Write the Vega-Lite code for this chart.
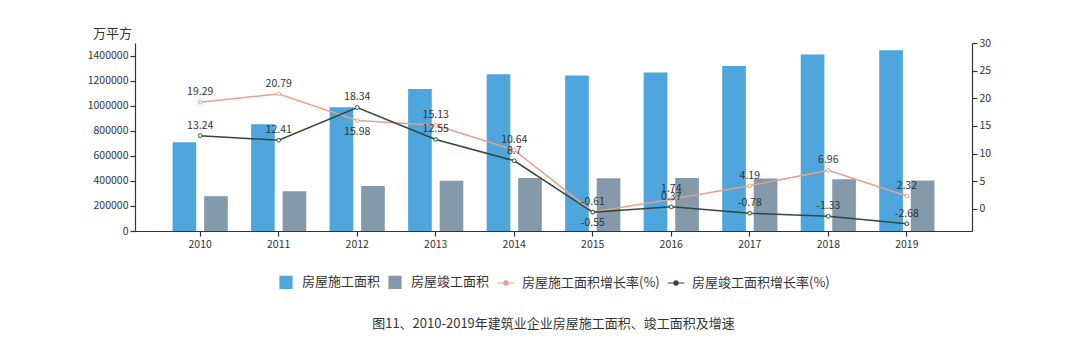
{
  "$schema": "https://vega.github.io/schema/vega-lite/v6.json",
  "width": 837,
  "height": 188,
  "autosize": {"type": "none"},
  "padding": {"left": 135, "top": 43, "right": 108, "bottom": 123},
  "background": "white",
  "config": {
    "font": "Noto Sans CJK SC",
    "view": {"stroke": null},
    "axis": {
      "domainColor": "#333333",
      "tickColor": "#333333",
      "labelColor": "#333333",
      "labelFontSize": 10.5,
      "labelFont": "Noto Sans CJK SC",
      "grid": false,
      "tickSize": 5,
      "domainWidth": 1.2,
      "tickWidth": 1.2
    },
    "title": {"font": "Noto Sans CJK SC"},
    "legend": {"labelFont": "Noto Sans CJK SC"}
  },
  "title": {
    "text": "图11、2010-2019年建筑业企业房屋施工面积、竣工面积及增速",
    "orient": "bottom",
    "anchor": "middle",
    "fontSize": 13,
    "fontWeight": "normal",
    "color": "#333333",
    "offset": 27
  },
  "data": {
    "values": [
      {"year": "2010", "房屋施工面积": 708024, "房屋竣工面积": 277450, "房屋施工面积增长率(%)": 19.29, "房屋竣工面积增长率(%)": 13.24},
      {"year": "2011", "房屋施工面积": 851828, "房屋竣工面积": 316429, "房屋施工面积增长率(%)": 20.79, "房屋竣工面积增长率(%)": 12.41},
      {"year": "2012", "房屋施工面积": 986427, "房屋竣工面积": 358737, "房屋施工面积增长率(%)": 15.98, "房屋竣工面积增长率(%)": 18.34},
      {"year": "2013", "房屋施工面积": 1132003, "房屋竣工面积": 401520, "房屋施工面积增长率(%)": 15.13, "房屋竣工面积增长率(%)": 12.55},
      {"year": "2014", "房屋施工面积": 1249826, "房屋竣工面积": 423357, "房屋施工面积增长率(%)": 10.64, "房屋竣工面积增长率(%)": 8.7},
      {"year": "2015", "房屋施工面积": 1239718, "房屋竣工面积": 420785, "房屋施工面积增长率(%)": -0.55, "房屋竣工面积增长率(%)": -0.61},
      {"year": "2016", "房屋施工面积": 1264220, "房屋竣工面积": 422375, "房屋施工面积增长率(%)": 1.74, "房屋竣工面积增长率(%)": 0.37},
      {"year": "2017", "房屋施工面积": 1317195, "房屋竣工面积": 419074, "房屋施工面积增长率(%)": 4.19, "房屋竣工面积增长率(%)": -0.78},
      {"year": "2018", "房屋施工面积": 1408920, "房屋竣工面积": 413509, "房屋施工面积增长率(%)": 6.96, "房屋竣工面积增长率(%)": -1.33},
      {"year": "2019", "房屋施工面积": 1441645, "房屋竣工面积": 402410, "房屋施工面积增长率(%)": 2.32, "房屋竣工面积增长率(%)": -2.68}
    ]
  },
  "encoding": {
    "x": {
      "field": "year",
      "type": "nominal",
      "scale": {"type": "band", "paddingInner": 0, "paddingOuter": 0.33},
      "axis": {"title": null, "labelAngle": 0, "labelPadding": 3}
    }
  },
  "layer": [
    {
      "transform": [{"fold": ["房屋施工面积", "房屋竣工面积"], "as": ["series", "value"]}],
      "mark": {"type": "bar"},
      "encoding": {
        "xOffset": {
          "field": "series",
          "type": "nominal",
          "sort": ["房屋施工面积", "房屋竣工面积"],
          "scale": {"paddingInner": 0.25, "paddingOuter": 0.37}
        },
        "y": {
          "field": "value",
          "type": "quantitative",
          "scale": {"domain": [0, 1500000], "nice": false},
          "axis": {
            "values": [0, 200000, 400000, 600000, 800000, 1000000, 1200000, 1400000],
            "format": "d",
            "title": "万平方",
            "titleAngle": 0,
            "titleAlign": "center",
            "titleBaseline": "bottom",
            "titleX": -23,
            "titleY": -3,
            "titleFontSize": 13,
            "titleFontWeight": "normal",
            "titleColor": "#333333",
            "titleFont": "Noto Sans CJK SC"
          }
        },
        "color": {
          "field": "series",
          "type": "nominal",
          "scale": {
            "domain": ["房屋施工面积", "房屋竣工面积", "房屋施工面积增长率(%)", "房屋竣工面积增长率(%)"],
            "range": ["#4EA6DC", "#8499AA", "#E8A08A", "#2E4A3A"]
          },
          "legend": {
            "title": null,
            "orient": "none",
            "direction": "horizontal",
            "legendX": 144,
            "legendY": 232,
            "padding": 0,
            "labelFontSize": 13,
            "labelColor": "#333333",
            "symbolSize": 144,
            "labelOffset": 9,
            "columnPadding": 5,
            "values": ["房屋施工面积", "房屋竣工面积", "房屋施工面积增长率(%)", "房屋竣工面积增长率(%)"],
            "symbolType": "square",
            "encode": {
              "symbols": {
                "update": {
                  "shape": {"signal": "indexof(['房屋施工面积','房屋竣工面积'], datum.value) >= 0 ? 'square' : 'M-1.4,0H-0.35M0.35,0H1.4M-0.35,0A0.35,0.35 0 1,0 0.35,0A0.35,0.35 0 1,0 -0.35,0'"},
                  "fill": {"signal": "indexof(['房屋施工面积','房屋竣工面积'], datum.value) >= 0 ? scale('color', datum.value) : 'white'"},
                  "stroke": {"signal": "indexof(['房屋施工面积','房屋竣工面积'], datum.value) >= 0 ? 'transparent' : scale('color', datum.value)"},
                  "strokeWidth": {"value": 1.2},
                  "opacity": {"value": 1}
                }
              }
            }
          }
        }
      }
    },
    {
      "transform": [{"fold": ["房屋施工面积增长率(%)", "房屋竣工面积增长率(%)"], "as": ["series", "value"]}],
      "encoding": {
        "y": {
          "field": "value",
          "type": "quantitative",
          "scale": {"domain": [-4, 30], "nice": false, "zero": false},
          "axis": {"orient": "right", "values": [0, 5, 10, 15, 20, 25, 30], "title": null}
        }
      },
      "layer": [
        {
          "mark": {"type": "line", "strokeWidth": 1.5, "point": {"filled": false, "fill": "white", "size": 14, "strokeWidth": 1}},
          "encoding": {
            "color": {"field": "series", "type": "nominal"}
          }
        },
        {
          "transform": [{"filter": "!(datum.series === '房屋施工面积增长率(%)' && (datum.year === '2012' || datum.year === '2015'))"}],
          "mark": {"type": "text", "dy": -10, "fontSize": 10.5, "color": "#333333", "font": "Noto Sans CJK SC"},
          "encoding": {"text": {"field": "value", "type": "nominal"}}
        },
        {
          "transform": [{"filter": "datum.series === '房屋施工面积增长率(%)' && (datum.year === '2012' || datum.year === '2015')"}],
          "mark": {"type": "text", "dy": 11, "fontSize": 10.5, "color": "#333333", "font": "Noto Sans CJK SC"},
          "encoding": {"text": {"field": "value", "type": "nominal"}}
        }
      ]
    }
  ],
  "resolve": {"scale": {"y": "independent"}}
}
